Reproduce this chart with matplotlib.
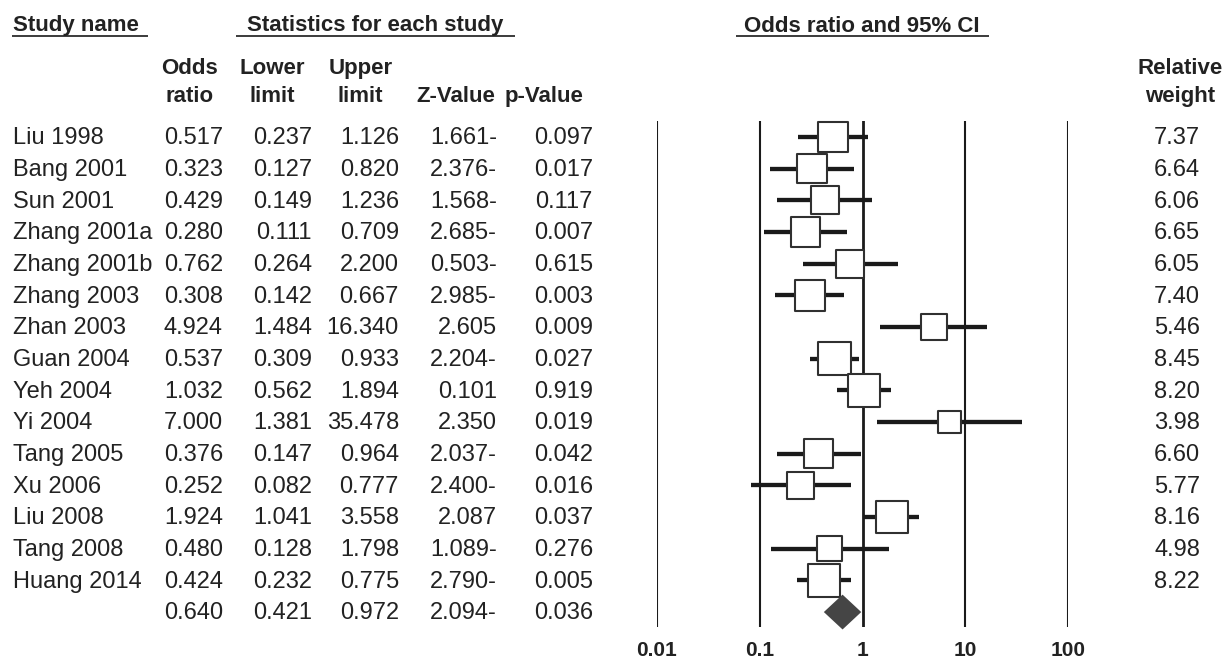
import numpy as np
import matplotlib
matplotlib.use('Agg')
import matplotlib.pyplot as plt
from matplotlib.transforms import blended_transform_factory
from matplotlib.ticker import NullLocator

plt.rcParams['font.family'] = ['Liberation Sans', 'DejaVu Sans']

# ---------------- data ----------------
study_names = ['Liu 1998', 'Bang 2001', 'Sun 2001', 'Zhang 2001a', 'Zhang 2001b',
               'Zhang 2003', 'Zhan 2003', 'Guan 2004', 'Yeh 2004', 'Yi 2004',
               'Tang 2005', 'Xu 2006', 'Liu 2008', 'Tang 2008', 'Huang 2014']
odds_ratio = [0.517, 0.323, 0.429, 0.280, 0.762, 0.308, 4.924, 0.537, 1.032, 7.000,
              0.376, 0.252, 1.924, 0.480, 0.424]
lower_limit = [0.237, 0.127, 0.149, 0.111, 0.264, 0.142, 1.484, 0.309, 0.562, 1.381,
               0.147, 0.082, 1.041, 0.128, 0.232]
upper_limit = [1.126, 0.820, 1.236, 0.709, 2.200, 0.667, 16.340, 0.933, 1.894, 35.478,
               0.964, 0.777, 3.558, 1.798, 0.775]
z_values = ['1.661-', '2.376-', '1.568-', '2.685-', '0.503-', '2.985-', '2.605', '2.204-',
            '0.101', '2.350', '2.037-', '2.400-', '2.087', '1.089-', '2.790-']
p_values = [0.097, 0.017, 0.117, 0.007, 0.615, 0.003, 0.009, 0.027, 0.919, 0.019,
            0.042, 0.016, 0.037, 0.276, 0.005]
rel_weight = [7.37, 6.64, 6.06, 6.65, 6.05, 7.40, 5.46, 8.45, 8.20, 3.98,
              6.60, 5.77, 8.16, 4.98, 8.22]
summary_or, summary_lower, summary_upper = 0.640, 0.421, 0.972
summary_z, summary_p = '2.094-', 0.036

tick_values = [0.01, 0.1, 1, 10, 100]
tick_labels = ['0.01', '0.1', '1', '10', '100']

group_headers = ['Study name', 'Statistics for each study', 'Odds ratio and 95% CI']
col_header_line1 = ['Odds', 'Lower', 'Upper', '', '', 'Relative']
col_header_line2 = ['ratio', 'limit', 'limit', 'Z-Value', 'p-Value', 'weight']

# ---------------- layout ----------------
W, H = 1226, 662
TXT = '#222222'
LINE = '#1a1a1a'
ROW0, ROWH = 137.0, 31.67


def row_of(py):
    return (py - ROW0) / ROWH


fig = plt.figure(figsize=(W / 100, H / 100), dpi=100)
fig.patch.set_facecolor('white')

ax_txt = fig.add_axes([0, 0, 1, 1])
ax_txt.set_xlim(0, W)
ax_txt.set_ylim(H, 0)
ax_txt.axis('off')

top_px, bot_px = 121.0, 626.7
x_lo, x_hi = 656.7, 1068.3
ax = fig.add_axes([x_lo / W, 1 - bot_px / H, (x_hi - x_lo) / W, (bot_px - top_px) / H])
ax.set_xscale('log')
ax.set_xlim(tick_values[0], tick_values[-1])
ax.set_ylim(row_of(bot_px), row_of(top_px))
ax.patch.set_visible(False)
for s in ax.spines.values():
    s.set_visible(False)
ax.set_yticks([])
ax.set_xticks(tick_values, tick_labels, fontweight='bold', fontsize=15)
ax.xaxis.set_minor_locator(NullLocator())
ax.tick_params(axis='x', length=0, pad=10.5, colors=TXT)

for t in tick_values:
    ax.axvline(t, color=LINE, lw=2.0 if t == 1 else 1.5, zorder=1)

rows = np.arange(len(study_names))
ax.hlines(rows, lower_limit, upper_limit, color=LINE, lw=3.1, zorder=2)
ax.scatter(odds_ratio, rows, s=66 * np.array(rel_weight), marker='s',
           facecolor='white', edgecolor='#303030', linewidths=1.5, zorder=3, clip_on=False)

ys = len(study_names)
ax.fill([summary_lower, summary_or, summary_upper, summary_or],
        [ys, ys - 0.55, ys, ys + 0.55], color='#454545', lw=0, zorder=3, clip_on=False)

# ---------------- text table ----------------
trans = blended_transform_factory(ax_txt.transData, ax.transData)
col_right = [223, 312, 399, 497, 593, 1200]
BASE = 0.23
for i, name in enumerate(study_names):
    y = i + BASE
    ax_txt.text(13, y, name, transform=trans, ha='left', va='baseline', fontsize=17, color=TXT)
    vals = [f'{odds_ratio[i]:.3f}', f'{lower_limit[i]:.3f}', f'{upper_limit[i]:.3f}',
            z_values[i], f'{p_values[i]:.3f}', f'{rel_weight[i]:.2f}']
    for xr, v in zip(col_right, vals):
        ax_txt.text(xr, y, v, transform=trans, ha='right', va='baseline', fontsize=17, color=TXT)

y = ys + BASE
svals = [f'{summary_or:.3f}', f'{summary_lower:.3f}', f'{summary_upper:.3f}', summary_z, f'{summary_p:.3f}']
for xr, v in zip(col_right, svals):
    ax_txt.text(xr, y, v, transform=trans, ha='right', va='baseline', fontsize=17, color=TXT)

# group headers with underlines
hdr_x = [(13, 'left'), (375, 'center'), (862, 'center')]
hdr_lines = [(12, 148), (236, 515), (736, 989)]
for txt, (hx, ha), (u0, u1) in zip(group_headers, hdr_x, hdr_lines):
    ax_txt.text(hx, 31.5, txt, ha=ha, va='baseline', fontsize=16, fontweight='bold', color=TXT)
    ax_txt.plot([u0, u1], [35.8, 35.8], color=LINE, lw=1.2, solid_capstyle='butt')

col_center = [190, 272.5, 360.5, 456, 544, 1180]
for cx, l1, l2 in zip(col_center, col_header_line1, col_header_line2):
    if l1:
        ax_txt.text(cx, 74, l1, ha='center', va='baseline', fontsize=16, fontweight='bold', color=TXT)
    ax_txt.text(cx, 102, l2, ha='center', va='baseline', fontsize=16, fontweight='bold', color=TXT)

fig.savefig('out.png', dpi=100, facecolor='white')
